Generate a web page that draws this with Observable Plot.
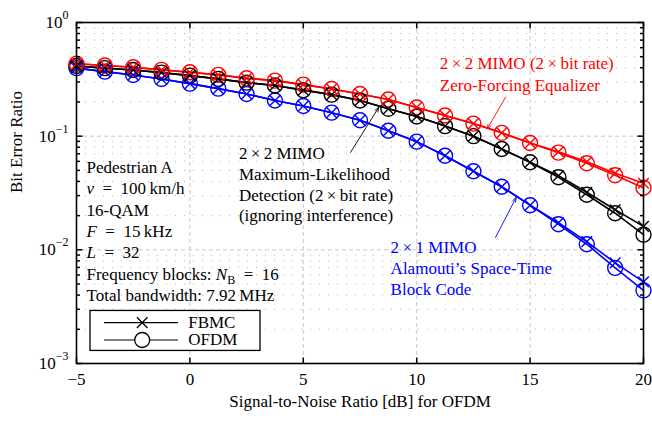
<!DOCTYPE html>
<html><head><meta charset="utf-8">
<script src="https://cdn.jsdelivr.net/npm/d3@7"></script>
<script src="https://cdn.jsdelivr.net/npm/@observablehq/plot@0.6"></script>
<style>body{margin:0;background:#fff}</style>
</head><body><div id="chart"></div>
<script>
// ---- data ----
const snr = [-5,-3.75,-2.5,-1.25,0,1.25,2.5,3.75,5,6.25,7.5,8.75,10,11.25,12.5,13.75,15,16.25,17.5,18.75,20];
const zfOfdm = [0.433,0.418,0.404,0.383,0.365,0.346,0.323,0.308,0.284,0.260,0.235,0.210,0.179,0.152,0.129,0.107,0.0871,0.0716,0.0578,0.0453,0.0352];
const zfFbmc = [0.433,0.418,0.404,0.383,0.365,0.346,0.323,0.308,0.284,0.260,0.235,0.210,0.179,0.152,0.129,0.107,0.0871,0.0730,0.0596,0.0472,0.0385];
const mlOfdm = [0.414,0.397,0.382,0.362,0.341,0.319,0.296,0.279,0.254,0.232,0.206,0.174,0.149,0.1226,0.100,0.0771,0.0590,0.0435,0.0305,0.0210,0.0136];
const mlFbmc = [0.414,0.397,0.382,0.362,0.341,0.319,0.296,0.279,0.254,0.232,0.206,0.174,0.149,0.1226,0.100,0.0771,0.0590,0.0449,0.0321,0.0225,0.0161];
const alOfdm = [0.397,0.370,0.345,0.318,0.290,0.262,0.235,0.206,0.184,0.161,0.138,0.1117,0.0895,0.0673,0.0492,0.0359,0.0247,0.0168,0.0112,0.00694,0.00440];
const alFbmc = [0.397,0.370,0.345,0.318,0.290,0.262,0.235,0.206,0.184,0.161,0.138,0.1117,0.0895,0.0673,0.0492,0.0359,0.0247,0.0173,0.0118,0.00768,0.00523];
const xTicks = [-5,0,5,10,15,20];
const yTicks = [1,0.1,0.01,0.001];
const xLabel = "Signal-to-Noise Ratio [dB] for OFDM";
const yLabel = "Bit Error Ratio";
const infoLines = ["Pedestrian A","{i:v}\u2002=\u2002100\u2009km/h","16-QAM","{i:F}\u2002=\u200215\u2009kHz","{i:L}\u2002=\u200232","Frequency blocks: {i:N}{sub:B}\u2002=\u200216","Total bandwidth: 7.92\u2009MHz"];
const zfLines = ["2\u2009\u00d7\u20092 MIMO (2\u2009\u00d7\u2009bit rate)","Zero-Forcing Equalizer"];
const mlLines = ["2\u2009\u00d7\u20092 MIMO","Maximum-Likelihood","Detection (2\u2009\u00d7\u2009bit rate)","(ignoring interference)"];
const alLines = ["2\u2009\u00d7\u20091 MIMO","Alamouti\u2019s Space-Time","Block Code"];
const legendLabels = ["FBMC","OFDM"];

// ---- build tables ----
const series = [
  {key:"al", color:"#0000ff", ofdm:alOfdm, fbmc:alFbmc},
  {key:"ml", color:"#000000", ofdm:mlOfdm, fbmc:mlFbmc},
  {key:"zf", color:"#ff0000", ofdm:zfOfdm, fbmc:zfFbmc}
];
const rows = [];
for (const s of series) {
  snr.forEach((x,i) => {
    rows.push({snr:x, ber:s.fbmc[i], wave:"FBMC", key:s.key+"-f", color:s.color});
    rows.push({snr:x, ber:s.ofdm[i], wave:"OFDM", key:s.key+"-o", color:s.color});
  });
}
const yMinor = [];
for (let k=-3;k<0;k++) for (let m=2;m<=9;m++) yMinor.push(m*Math.pow(10,k));

// annotation anchors (data coordinates) and line spacing in px
const textBlocks = [
  {lines:infoLines, x:-4.56, y:0.0528, step:21.3, color:"#000"},
  {lines:zfLines, x:11.02, y:0.4326, step:21.7, color:"#ff0000"},
  {lines:mlLines, x:2.16, y:0.0697, step:20.6, color:"#000"},
  {lines:alLines, x:8.85, y:0.01048, step:20.8, color:"#0000ff"}
];
const arrows = [
  {x1:13.915, y1:0.2198, x2:13.108, y2:0.1157, color:"#ff0000"},
  {x1:7.081, y1:0.0720, x2:8.329, y2:0.1794, color:"#000"},
  {x1:13.474, y1:0.01284, x2:14.387, y2:0.02889, color:"#0000ff"}
];
// legend (data coordinates)
const legend = {x1:-4.383, x2:3.113, y1:0.0029, y2:0.00129, rows:[0.002288,0.00161], lx1:-3.765, lx2:-0.503, mx:-2.103, tx:-0.075};

const seg = (dx,dy) => ({draw(ctx){ ctx.moveTo(0,0); ctx.lineTo(dx,dy); }});
const font = "'Liberation Serif', 'Times New Roman', serif";

const textMarks = [];
for (const b of textBlocks) {
  b.lines.forEach((t,i) => {
    textMarks.push(Plot.text([t], {x:()=>b.x, y:()=>b.y, text:d=>d, dy:i*b.step, textAnchor:"start", lineAnchor:"middle", fill:b.color, fontSize:17}));
  });
}

const chart = Plot.plot({
  width:652, height:421,
  marginLeft:76, marginRight:9, marginTop:22, marginBottom:58,
  style:{fontFamily:font, fontSize:"17px", background:"white", overflow:"visible"},
  x:{domain:[-5,20]},
  y:{type:"log", domain:[1e-3,1]},
  marks:[
    Plot.ruleY(yMinor, {stroke:"#b4b4b4", strokeDasharray:"1,8"}),
    Plot.ruleY([0.1,0.01], {stroke:"#c8c8c8", strokeDasharray:"4,3"}),
    Plot.ruleX([0,5,10,15], {stroke:"#c8c8c8", strokeDasharray:"4,3"}),
    Plot.line(rows, {x:"snr", y:"ber", z:"key", stroke:"color", strokeWidth:1.6}),
    Plot.dot(rows.filter(d=>d.wave==="OFDM"), {x:"snr", y:"ber", r:7.5, stroke:"color", fill:"none", strokeWidth:1.4}),
    Plot.dot(rows.filter(d=>d.wave==="FBMC"), {x:"snr", y:"ber", r:4.9, symbol:"times", stroke:"color", strokeWidth:1.4}),
    Plot.frame({stroke:"black", strokeWidth:1.6}),
    Plot.dot(yMinor, {x:()=>-5, y:d=>d, symbol:seg(3.5,0), stroke:"black"}),
    Plot.dot(yMinor, {x:()=>20, y:d=>d, symbol:seg(-3.5,0), stroke:"black"}),
    Plot.dot(yTicks, {x:()=>-5, y:d=>d, symbol:seg(6,0), stroke:"black"}),
    Plot.dot(yTicks, {x:()=>20, y:d=>d, symbol:seg(-6,0), stroke:"black"}),
    Plot.dot(xTicks, {x:d=>d, y:()=>1e-3, symbol:seg(0,-6), stroke:"black"}),
    Plot.dot(xTicks, {x:d=>d, y:()=>1, symbol:seg(0,6), stroke:"black"}),
    Plot.axisX({ticks:xTicks, tickSize:0, tickPadding:9, label:null, fontSize:17, tickFormat:d=> d<0 ? "\u2212"+(-d) : String(d)}),
    Plot.axisY({ticks:yTicks, tickSize:0, tickPadding:8, label:null, fontSize:17, tickFormat:d=>{const e=Math.round(Math.log10(d)); return "10{sup:"+(e<0?"\u2212"+(-e):e)+"}";}}),
    Plot.text([xLabel], {frameAnchor:"bottom", text:d=>d, dy:43, fontSize:17}),
    Plot.text([yLabel], {frameAnchor:"left", text:d=>d, dx:-60, rotate:-90, fontSize:17}),
    ...textMarks,
    Plot.arrow(arrows, {x1:"x1", y1:"y1", x2:"x2", y2:"y2", stroke:"color", strokeWidth:0.9, headLength:8, headAngle:40}),
    // legend
    Plot.rect([legend], {x1:"x1", x2:"x2", y1:"y1", y2:"y2", fill:"white", stroke:"black", strokeWidth:1.3}),
    Plot.ruleY(legend.rows, {x1:()=>legend.lx1, x2:()=>legend.lx2, y:d=>d, stroke:"black", strokeWidth:1.2}),
    Plot.dot([legend.rows[0]], {x:()=>legend.mx, y:d=>d, symbol:"times", r:4.9, stroke:"black", strokeWidth:1.3}),
    Plot.dot([legend.rows[1]], {x:()=>legend.mx, y:d=>d, r:7.5, stroke:"black", fill:"white", strokeWidth:1.3}),
    Plot.text(legendLabels, {x:()=>legend.tx, y:(d,i)=>legend.rows[i], text:d=>d, textAnchor:"start", lineAnchor:"middle", fontSize:17})
  ]
});
document.getElementById("chart").appendChild(chart);

// rich text: {i:..} italic, {sub:..} subscript, {sup:..} superscript
d3.select(chart).selectAll("text").each(function(){
  const t = this.textContent;
  if (!t.includes("{")) return;
  const el = d3.select(this);
  el.text(null);
  const re = /\{(i|sub|sup):([^}]*)\}/g;
  let last = 0, m, shift = 0;
  const plain = s => { if (!s) return; const sp = el.append("tspan").text(s); if (shift) { sp.attr("dy", -shift); shift = 0; } };
  while ((m = re.exec(t))) {
    plain(t.slice(last, m.index));
    const sp = el.append("tspan").text(m[2]);
    if (m[1]==="i") { sp.attr("font-style","italic"); if (shift) { sp.attr("dy",-shift); shift=0; } }
    else if (m[1]==="sub") { sp.attr("font-size","12px").attr("dy", 4 - shift); shift = 4; }
    else { sp.attr("font-size","12px").attr("dy", -9 - shift); shift = -9; }
    last = re.lastIndex;
  }
  plain(t.slice(last));
});
</script>
</body></html>
